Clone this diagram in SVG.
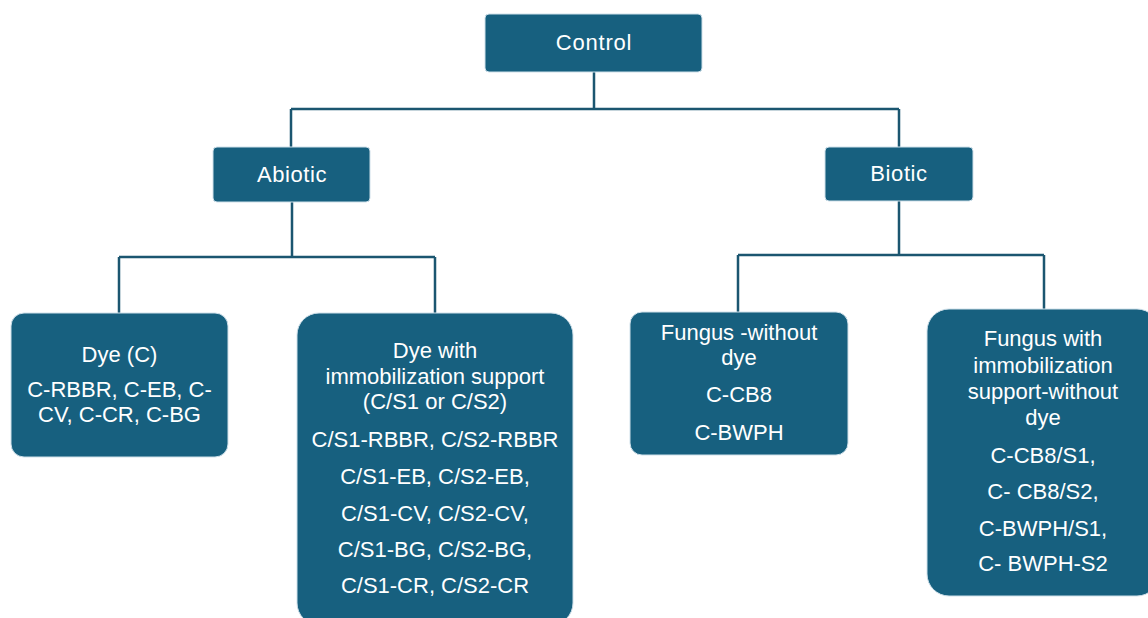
<svg xmlns="http://www.w3.org/2000/svg" width="1148" height="618" viewBox="0 0 1148 618">
  <style>
    .box { fill: #17607f; stroke: #cfe0ea; stroke-width: 1; }
    .lbl { font-family: "Liberation Sans", Arial, sans-serif; font-size: 22px; fill: #ffffff; text-anchor: middle; }
    .wire { fill: none; stroke: #1b5670; stroke-width: 2.5; }
  </style>
  <rect width="1148" height="618" fill="#ffffff"/>

  <!-- tree connectors -->
  <g id="connectors">
    <path class="wire" d="M594,72 V109 M291,109 H899 M291,109 V147 M899,109 V147"/>
    <path class="wire" d="M292,202 V257 M119,257 H435 M119,257 V313 M435,257 V313"/>
    <path class="wire" d="M899,201 V255 M738,255 H1044 M738,255 V312 M1044,255 V309"/>
  </g>

  <g id="control">
    <rect class="box" x="485" y="14" width="217" height="58" rx="4"/>
    <text class="lbl" x="594" y="50" letter-spacing="0.8">Control</text>
  </g>

  <g id="abiotic">
    <rect class="box" x="213" y="147" width="157" height="55" rx="4"/>
    <text class="lbl" x="292" y="182" letter-spacing="0.6">Abiotic</text>
  </g>

  <g id="biotic">
    <rect class="box" x="825" y="147" width="148" height="54" rx="4"/>
    <text class="lbl" x="899" y="181" letter-spacing="0.6">Biotic</text>
  </g>

  <g id="dye">
    <rect class="box" x="11" y="313" width="217" height="144" rx="13"/>
    <text class="lbl" x="119.5" y="362">Dye (C)</text>
    <text class="lbl" x="119.5" y="397">C-RBBR, C-EB, C-</text>
    <text class="lbl" x="119.5" y="422">CV, C-CR, C-BG</text>
  </g>

  <g id="dye-support">
    <rect class="box" x="297" y="313" width="276" height="312" rx="22"/>
    <text class="lbl" x="435" y="358">Dye with</text>
    <text class="lbl" x="435" y="384">immobilization support</text>
    <text class="lbl" x="435" y="409">(C/S1 or C/S2)</text>
    <text class="lbl" x="435" y="447">C/S1-RBBR, C/S2-RBBR</text>
    <text class="lbl" x="435" y="484">C/S1-EB, C/S2-EB,</text>
    <text class="lbl" x="435" y="521">C/S1-CV, C/S2-CV,</text>
    <text class="lbl" x="435" y="557">C/S1-BG, C/S2-BG,</text>
    <text class="lbl" x="435" y="593">C/S1-CR, C/S2-CR</text>
  </g>

  <g id="fungus">
    <rect class="box" x="630" y="312" width="218" height="143" rx="12"/>
    <text class="lbl" x="739" y="340">Fungus -without</text>
    <text class="lbl" x="739" y="365">dye</text>
    <text class="lbl" x="739" y="402">C-CB8</text>
    <text class="lbl" x="739" y="440">C-BWPH</text>
  </g>

  <g id="fungus-support">
    <rect class="box" x="927" y="309" width="232" height="287" rx="22"/>
    <text class="lbl" x="1043" y="346">Fungus with</text>
    <text class="lbl" x="1043" y="373">immobilization</text>
    <text class="lbl" x="1043" y="399">support-without</text>
    <text class="lbl" x="1043" y="425">dye</text>
    <text class="lbl" x="1043" y="463">C-CB8/S1,</text>
    <text class="lbl" x="1043" y="499">C- CB8/S2,</text>
    <text class="lbl" x="1043" y="536">C-BWPH/S1,</text>
    <text class="lbl" x="1043" y="571">C- BWPH-S2</text>
  </g>
</svg>
